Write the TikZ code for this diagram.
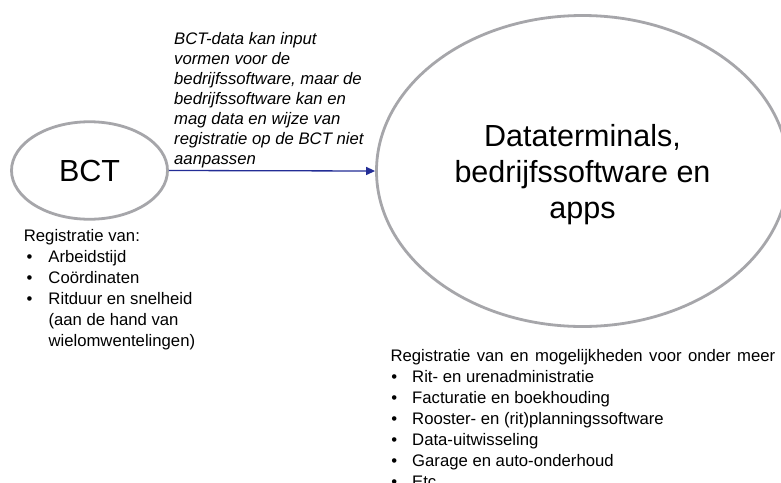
\documentclass[tikz,border=0pt]{standalone}
\usepackage{fontspec}
\setmainfont{Liberation Sans}
\usetikzlibrary{shapes.geometric,arrows.meta}
\definecolor{ringgray}{RGB}{166,166,170}
\definecolor{arrowblue}{RGB}{35,45,150}
\tikzset{
  ring/.style={ellipse, draw=ringgray, line width=2.8pt, inner sep=0pt},
  smalltext/.style={font=\fontsize{16.7}{21}\selectfont, align=left, inner sep=0pt, anchor=north west},
  notetext/.style={font=\fontsize{16.7}{20}\selectfont\itshape, align=left, inner sep=0pt, anchor=north west},
  bigtext/.style={font=\fontsize{30.5}{36.3}\selectfont, align=center, inner sep=0pt, anchor=north},
  flow/.style={draw=arrowblue, line width=1.3pt, -{Triangle[length=9pt,width=8pt]}}
}
\newcommand\lbul{\relax\hbox to 24.6pt{\kern2.7pt\textbullet\hfil}}
\newcommand\lind{\relax\hbox to 24.6pt{}}
\newcommand\rbul{\relax\hbox to 21.6pt{\kern0.7pt\textbullet\hfil}}
\begin{document}
\begin{tikzpicture}[x=1pt,y=-1pt]
\useasboundingbox[fill=white] (0,0) rectangle (781,482);
\node[ring, minimum width=156pt, minimum height=97.5pt, font=\fontsize{30.5}{36}\selectfont] (bct) at (89.5,170.5) {BCT};
\node[ring, minimum width=412pt, minimum height=311pt] (dt) at (582.5,171) {};
\node[bigtext] (dttext) at (582.5,123.9) {Dataterminals,\\bedrijfssoftware en\\apps};
\draw[flow] (bct.east) -- (dt.west);
\node[notetext] (note) at (174,32.5) {BCT-data kan input\\vormen voor de\\bedrijfssoftware, maar de\\bedrijfssoftware kan en\\mag data en wijze van\\registratie op de BCT niet\\aanpassen};
\node[smalltext] (bctlist) at (23.7,229) {Registratie van:\\\lbul Arbeidstijd\\\lbul Coördinaten\\\lbul Ritduur en snelheid\\\lind(aan de hand van\\\lind wielomwentelingen)};
\node[smalltext] (dtlist) at (390.4,348.7) {\spaceskip=6.4pt\relax Registratie van en mogelijkheden voor onder meer\\\rbul Rit- en urenadministratie\\\rbul Facturatie en boekhouding\\\rbul Rooster- en (rit)planningssoftware\\\rbul Data-uitwisseling\\\rbul Garage en auto-onderhoud\\\rbul Etc.};
\end{tikzpicture}
\end{document}
